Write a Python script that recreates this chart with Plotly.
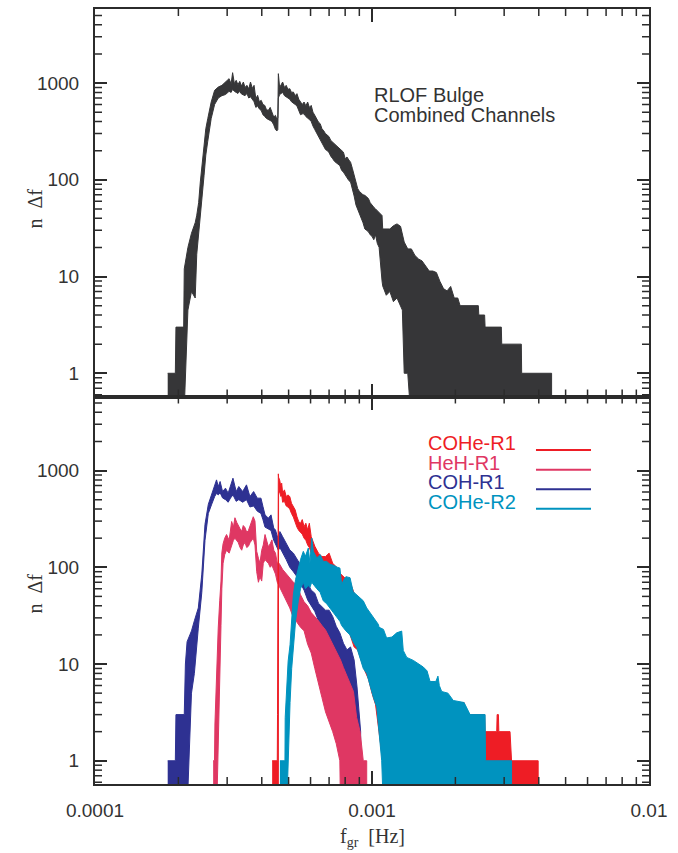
import plotly.graph_objects as go
from plotly.subplots import make_subplots

# ---------------- data (frequency in Hz, counts n per bin) ----------------
# Top panel: combined channels (upper / lower envelope of the noisy histogram)
comb_f = [1.83e-4, 1.95e-4, 1.96e-4, 2.09e-4, 2.10e-4, 2.165e-4, 2.23e-4, 2.30e-4, 2.33e-4, 2.367e-4,
          2.40e-4, 2.475e-4, 2.512e-4, 2.553e-4, 2.627e-4, 2.703e-4, 2.787e-4, 2.872e-4, 2.958e-4, 3.048e-4,
          3.10e-4, 3.139e-4, 3.186e-4, 3.234e-4, 3.28e-4, 3.331e-4, 3.38e-4, 3.432e-4, 3.48e-4, 3.535e-4,
          3.59e-4, 3.642e-4, 3.70e-4, 3.752e-4, 3.807e-4, 3.865e-4, 3.92e-4, 3.981e-4, 4.04e-4, 4.101e-4,
          4.16e-4, 4.225e-4, 4.29e-4, 4.352e-4, 4.418e-4, 4.483e-4, 4.537e-4, 4.57e-4, 4.591e-4, 4.64e-4,
          4.688e-4, 4.758e-4, 4.83e-4, 4.901e-4, 4.97e-4, 5.049e-4, 5.12e-4, 5.201e-4, 5.28e-4, 5.358e-4,
          5.44e-4, 5.519e-4, 5.60e-4, 5.686e-4, 5.77e-4, 5.857e-4, 5.94e-4, 6.034e-4, 6.12e-4, 6.216e-4,
          6.31e-4, 6.405e-4, 6.50e-4, 6.597e-4, 6.70e-4, 6.796e-4, 6.90e-4, 7.001e-4, 7.10e-4, 7.212e-4,
          7.32e-4, 7.43e-4, 7.54e-4, 7.654e-4, 7.77e-4, 7.885e-4, 8.003e-4, 8.123e-4, 8.25e-4, 8.367e-4,
          8.50e-4, 8.62e-4, 8.75e-4, 8.88e-4, 9.00e-4, 9.148e-4, 9.28e-4, 9.423e-4, 9.56e-4, 9.708e-4,
          9.85e-4, 1.000e-3, 1.015e-3, 1.030e-3, 1.045e-3, 1.061e-3, 1.087e-3, 1.093e-3, 1.126e-3, 1.160e-3,
          1.195e-3, 1.231e-3, 1.268e-3, 1.287e-3, 1.307e-3, 1.346e-3, 1.387e-3, 1.429e-3, 1.472e-3, 1.516e-3,
          1.562e-3, 1.609e-3, 1.658e-3, 1.708e-3, 1.759e-3, 1.812e-3, 1.866e-3, 1.923e-3, 1.981e-3, 2.040e-3,
          2.08e-3, 2.42e-3, 2.43e-3, 2.55e-3, 2.56e-3, 2.93e-3, 2.94e-3, 3.46e-3, 3.47e-3, 4.45e-3]
comb_hi = [1, 1, 3, 3, 12, 20, 28, 36, 43, 58,
           95, 209, 337, 428, 636, 840, 909, 946, 1024, 1109,
           980, 1279, 985, 1066, 960, 1040, 930, 1024, 900, 946,
           870, 1024, 880, 946, 689, 746, 640, 662, 600, 587,
           530, 522, 560, 501, 445, 463, 420, 440, 1249, 900,
           946, 1024, 900, 946, 860, 874, 800, 807, 740, 776,
           680, 636, 600, 636, 580, 636, 560, 587, 500, 463,
           420, 395, 380, 337, 320, 299, 290, 277, 255, 245,
           235, 227, 220, 209, 200, 193, 165, 172, 160, 152,
           130, 111, 95, 81, 76, 72, 70, 69, 66, 64,
           58, 54, 52, 50, 48, 46, 42.7, 31, 31, 31,
           33.5, 35, 33, 26.6, 22.7, 19.3, 19.3, 16.5, 15.2, 14.5,
           13, 11.4, 11.4, 11, 8.9, 7.5, 7.1, 7.9, 6, 6,
           5, 5, 4, 4, 3, 3, 2, 2, 1, 1]
comb_lo = [0.3, 0.3, 0.3, 0.3, 0.3, 4.5, 7, 6, 17, 28,
           45, 110, 180, 250, 430, 600, 700, 740, 760, 820,
           800, 860, 820, 800, 780, 820, 770, 760, 740, 780,
           700, 720, 680, 640, 560, 580, 540, 520, 470, 450,
           430, 420, 410, 400, 370, 330, 320, 330, 700, 760,
           780, 800, 740, 720, 700, 680, 640, 620, 600, 580,
           520, 470, 480, 480, 450, 430, 420, 400, 360, 330,
           300, 280, 260, 240, 220, 205, 200, 190, 175, 165,
           155, 150, 145, 140, 125, 120, 115, 105, 98, 95,
           80, 68, 55, 48, 45, 40, 36, 31, 30, 29,
           27, 26, 24, 27, 22, 20, 9, 8, 6.4, 7,
           5.5, 6, 5, 4.5, 1, 1, 0.3, 0.3, 0.3, 0.3,
           0.3, 0.3, 0.3, 0.3, 0.3, 0.3, 0.3, 0.3, 0.3, 0.3,
           0.3, 0.3, 0.3, 0.3, 0.3, 0.3, 0.3, 0.3, 0.3, 0.3]

# Bottom panel: COH-R1
coh_f = [1.83e-4, 1.95e-4, 1.96e-4, 2.10e-4, 2.12e-4, 2.15e-4, 2.20e-4, 2.23e-4, 2.284e-4, 2.36e-4,
         2.43e-4, 2.495e-4, 2.565e-4, 2.64e-4, 2.705e-4, 2.746e-4, 2.787e-4, 2.829e-4, 2.888e-4, 2.958e-4,
         3.025e-4, 3.086e-4, 3.148e-4, 3.234e-4, 3.305e-4, 3.413e-4, 3.523e-4, 3.625e-4, 3.738e-4, 3.854e-4,
         3.973e-4, 4.04e-4, 4.11e-4, 4.225e-4, 4.32e-4, 4.418e-4, 4.483e-4, 4.591e-4, 4.65e-4, 4.758e-4,
         4.901e-4, 5.049e-4, 5.201e-4, 5.358e-4, 5.519e-4, 5.686e-4, 5.857e-4, 6.034e-4, 6.216e-4, 6.405e-4,
         6.597e-4, 6.796e-4, 7.001e-4, 7.212e-4, 7.43e-4, 7.654e-4, 7.885e-4, 8.123e-4, 8.367e-4, 8.62e-4,
         8.83e-4, 9.0e-4, 9.1e-4]
coh_hi = [1, 1, 3, 3, 10, 17, 20, 22, 28, 38,
          85, 278, 447, 565, 711, 800, 683, 770, 606, 657,
          583, 683, 833, 606, 683, 606, 711, 538, 606, 518,
          518, 424, 348, 322, 348, 254, 243, 192, 234, 207,
          177, 151, 140, 120, 106, 94, 68, 58, 54, 42.5,
          39.5, 36, 36, 31, 24.5, 21, 16.4, 14, 15, 11,
          5.8, 3, 2]
coh_lo = [0.3, 0.3, 0.3, 0.3, 0.3, 0.3, 2, 5, 8, 23.5,
          55, 190, 360, 450, 540, 580, 560, 590, 520, 500,
          470, 520, 560, 480, 500, 470, 500, 420, 430, 380,
          360, 310, 260, 250, 240, 190, 170, 150, 160, 140,
          120, 100, 90, 80, 68, 58, 46, 40, 35, 28,
          24, 20, 18, 15, 12, 9, 7, 5, 4, 3,
          2, 1, 0.3]

# Bottom panel: HeH-R1
heh_f = [2.67e-4, 2.70e-4, 2.71e-4, 2.75e-4, 2.785e-4, 2.82e-4, 2.85e-4, 2.87e-4, 2.90e-4, 2.94e-4,
         2.985e-4, 3.05e-4, 3.114e-4, 3.16e-4, 3.20e-4, 3.25e-4, 3.29e-4, 3.34e-4, 3.385e-4, 3.43e-4,
         3.479e-4, 3.53e-4, 3.58e-4, 3.63e-4, 3.68e-4, 3.727e-4, 3.78e-4, 3.835e-4, 3.89e-4, 3.94e-4,
         3.998e-4, 4.05e-4, 4.11e-4, 4.16e-4, 4.225e-4, 4.29e-4, 4.352e-4, 4.42e-4, 4.483e-4, 4.55e-4,
         4.619e-4, 4.758e-4, 4.901e-4, 5.049e-4, 5.201e-4, 5.358e-4, 5.519e-4, 5.686e-4, 5.857e-4, 6.034e-4,
         6.216e-4, 6.405e-4, 6.597e-4, 6.796e-4, 7.001e-4, 7.212e-4, 7.43e-4, 7.654e-4, 7.70e-4, 7.885e-4,
         8.123e-4, 8.367e-4, 8.57e-4, 8.80e-4, 9.06e-4, 9.30e-4, 9.57e-4]
heh_hi = [1, 1, 2.4, 11.7, 23.5, 45, 72, 141, 175, 200,
          218, 190, 297, 260, 325, 290, 275, 250, 235, 270,
          257, 230, 240, 270, 297, 333, 300, 146, 124, 110,
          150, 170, 218, 190, 163, 175, 192, 150, 140, 110,
          110, 95, 85, 78, 70, 66, 52, 44, 40, 34,
          31, 28, 25, 22.5, 19, 16, 13.6, 11.5, 11, 9.2,
          7.5, 6.3, 5.2, 2.8, 2, 1, 1]
heh_lo = [0.3, 0.3, 0.3, 0.3, 2, 8, 25, 60, 110, 135,
          150, 140, 170, 190, 200, 190, 180, 160, 150, 170,
          180, 160, 165, 180, 190, 200, 170, 90, 70, 80,
          72, 110, 120, 115, 110, 100, 105, 95, 85, 70,
          62, 53, 45, 38, 30, 27, 24, 22, 16, 13,
          9, 6.2, 4.5, 3.2, 2.6, 2, 1.5, 1, 0.3, 0.3,
          0.3, 0.3, 0.3, 0.3, 0.3, 0.3, 0.3]

# Bottom panel: COHe-R1
cohe1_f = [4.36e-4, 4.55e-4, 4.56e-4, 4.59e-4, 4.60e-4, 4.64e-4, 4.688e-4, 4.72e-4, 4.758e-4, 4.83e-4,
           4.901e-4, 4.97e-4, 5.049e-4, 5.12e-4, 5.201e-4, 5.28e-4, 5.358e-4, 5.44e-4, 5.519e-4, 5.60e-4,
           5.686e-4, 5.77e-4, 5.857e-4, 5.94e-4, 6.034e-4, 6.216e-4, 6.405e-4, 6.597e-4, 6.796e-4, 7.001e-4,
           7.212e-4, 7.43e-4, 7.654e-4, 7.885e-4, 8.123e-4, 8.367e-4, 8.62e-4, 8.88e-4, 9.148e-4, 9.423e-4,
           9.708e-4, 1.0e-3, 1.03e-3, 1.061e-3, 1.093e-3, 1.126e-3, 1.16e-3, 1.195e-3, 1.231e-3, 1.268e-3,
           1.307e-3, 1.346e-3, 1.387e-3, 1.429e-3, 1.472e-3, 1.516e-3, 1.562e-3, 1.609e-3, 1.658e-3, 1.708e-3,
           1.759e-3, 1.866e-3, 2.15e-3, 2.16e-3, 2.55e-3, 2.56e-3, 2.82e-3, 2.83e-3, 2.86e-3, 2.87e-3,
           3.15e-3, 3.19e-3, 3.98e-3]
cohe1_hi = [1, 1, 3, 924, 850, 800, 683, 740, 583, 631,
            538, 560, 538, 459, 424, 392, 334, 296, 285, 311,
            263, 285, 243, 285, 207, 165, 140, 129, 129, 140,
            110, 101, 87, 80, 74, 68, 54, 42.5, 36, 33.6,
            31, 28.6, 24.4, 22.5, 19.2, 16.4, 12.9, 11.9, 11, 10.2,
            11, 10.2, 10.2, 9.4, 8, 7.4, 6.3, 6.3, 5.4, 5.4,
            4.6, 4, 4, 3, 3, 2, 2, 3, 3, 2,
            2, 1, 1]
cohe1_lo = [0.3, 0.3, 0.3, 0.3, 600, 600, 540, 560, 470, 480,
            430, 420, 400, 360, 330, 300, 260, 240, 230, 220,
            200, 190, 170, 160, 140, 110, 90, 80, 75, 70,
            60, 50, 40, 32, 25, 20, 15, 14, 11, 8.5,
            7, 5, 3.8, 2, 1, 0.3, 0.3, 0.3, 0.3, 0.3,
            0.3, 0.3, 0.3, 0.3, 0.3, 0.3, 0.3, 0.3, 0.3, 0.3,
            0.3, 0.3, 0.3, 0.3, 0.3, 0.3, 0.3, 0.3, 0.3, 0.3,
            0.3, 0.3, 0.3]

# Bottom panel: COHe-R2
cohe2_f = [4.65e-4, 4.85e-4, 4.86e-4, 4.92e-4, 4.98e-4, 5.06e-4, 5.13e-4, 5.20e-4, 5.30e-4, 5.42e-4,
           5.52e-4, 5.65e-4, 5.75e-4, 5.89e-4, 5.97e-4, 6.06e-4, 6.14e-4, 6.32e-4, 6.50e-4, 6.67e-4,
           6.86e-4, 7.06e-4, 7.25e-4, 7.50e-4, 7.66e-4, 7.77e-4, 7.87e-4, 8.05e-4, 8.33e-4, 8.55e-4,
           8.81e-4, 9.06e-4, 9.30e-4, 9.57e-4, 9.85e-4, 1.012e-3, 1.04e-3, 1.055e-3, 1.06e-3, 1.084e-3,
           1.10e-3, 1.129e-3, 1.18e-3, 1.228e-3, 1.28e-3, 1.297e-3, 1.335e-3, 1.41e-3, 1.47e-3, 1.532e-3,
           1.58e-3, 1.62e-3, 1.70e-3, 1.73e-3, 1.75e-3, 1.785e-3, 1.88e-3, 1.965e-3, 2.15e-3, 2.26e-3,
           2.56e-3, 2.57e-3, 3.19e-3]
cohe2_hi = [1, 1, 2.8, 6.2, 10.7, 15.8, 30, 52, 75, 98,
            120, 146, 130, 158, 110, 200, 146, 125, 135, 115,
            115, 107, 105, 100, 98, 66, 72, 80, 78, 56,
            52, 49, 45, 38, 34, 30, 27, 25.6, 24, 23,
            22.8, 18.6, 19, 21, 21.9, 13.8, 11.7, 10.9, 10, 9.3,
            8.5, 6.6, 6.6, 7.5, 6, 5.2, 5, 4.2, 4, 3,
            3, 1, 1]
cohe2_lo = [0.3, 0.3, 0.3, 0.3, 1, 4, 9, 13, 28, 45,
            60, 70, 60, 65, 62, 70, 68, 60, 55, 45,
            42, 38, 34, 30, 27.6, 25, 23.6, 22, 20, 17,
            14.8, 11.7, 9, 8, 6, 4.5, 3.6, 2.5, 1.9, 1,
            0.3, 0.3, 0.3, 0.3, 0.3, 0.3, 0.3, 0.3, 0.3, 0.3,
            0.3, 0.3, 0.3, 0.3, 0.3, 0.3, 0.3, 0.3, 0.3, 0.3,
            0.3, 0.3, 0.3]

legend_labels = ["COHe-R1", "HeH-R1", "COH-R1", "COHe-R2"]
tick_labels_x = ["0.0001", "0.001", "0.01"]
tick_labels_y = ["1", "10", "100", "1000"]

# ---------------- styling ----------------
INK = "#2b2b2b"
C_COMB = "#363638"
C_RED = "#EE1D25"
C_PINK = "#DF3763"
C_BLUE = "#2E3192"
C_TEAL = "#0093BF"
SANS = "Liberation Sans, Arial, sans-serif"
SERIF = "Liberation Serif, Times New Roman, serif"

for f, h, l in [(comb_f, comb_hi, comb_lo), (coh_f, coh_hi, coh_lo), (heh_f, heh_hi, heh_lo),
                (cohe1_f, cohe1_hi, cohe1_lo), (cohe2_f, cohe2_hi, cohe2_lo)]:
    assert len(f) == len(h) == len(l), (len(f), len(h), len(l))


def band(f, hi, lo, color):
    return go.Scatter(x=list(f) + list(f)[::-1], y=list(hi) + list(lo)[::-1],
                      mode="lines", fill="toself", fillcolor=color,
                      line=dict(color=color, width=1), hoverinfo="skip", showlegend=False)


fig = make_subplots(rows=2, cols=1, shared_xaxes=True, vertical_spacing=0)
fig.add_trace(band(comb_f, comb_hi, comb_lo, C_COMB), row=1, col=1)
fig.add_trace(band(coh_f, coh_hi, coh_lo, C_BLUE), row=2, col=1)
fig.add_trace(band(heh_f, heh_hi, heh_lo, C_PINK), row=2, col=1)
fig.add_trace(band(cohe1_f, cohe1_hi, cohe1_lo, C_RED), row=2, col=1)
fig.add_trace(band(cohe2_f, cohe2_hi, cohe2_lo, C_TEAL), row=2, col=1)

XR = [-4, -2]
YR = [-0.24, 3.765]
PLOT_W, PANEL_H = 554.0, 388.5
MINOR_LEN = 7.0

xcommon = dict(type="log", range=XR, tickmode="array", tickvals=[1e-4, 1e-3, 1e-2],
               ticktext=tick_labels_x,
               ticks="inside", ticklen=13, tickwidth=1.6, tickcolor=INK,
               showline=True, linecolor=INK, linewidth=2, mirror="allticks",
               showgrid=False, zeroline=False, ticklabelstandoff=8,
               tickfont=dict(family=SANS, size=19, color="#333333"))
ycommon = dict(type="log", range=YR, tickmode="array",
               tickvals=[1, 10, 100, 1000], ticktext=tick_labels_y,
               ticks="inside", ticklen=12, tickwidth=1.6, tickcolor=INK,
               showline=True, linecolor=INK, linewidth=2, mirror="allticks",
               showgrid=False, zeroline=False, ticklabelstandoff=10,
               tickfont=dict(family=SANS, size=19, color="#333333"))

fig.update_xaxes(**xcommon)
fig.update_xaxes(showticklabels=False, row=1, col=1)
fig.update_xaxes(showticklabels=True, row=2, col=1)
fig.update_yaxes(**ycommon)
fig.update_layout(yaxis=dict(domain=[0.5, 1.0]), yaxis2=dict(domain=[0.0, 0.5]))

# minor (2..9) log ticks on all four sides of both panels, pointing inward
x_minor_vals = [m * 10.0 ** e for e in (-4, -3) for m in range(2, 10)]
y_minor_vals = [v for v in (m * 10.0 ** e for e in (-1, 0, 1, 2, 3) for m in range(2, 10))
                if 10 ** YR[0] < v < 10 ** YR[1]]
shapes = []
tick_line = dict(color=INK, width=1.5)
dy = MINOR_LEN / PANEL_H
dx = MINOR_LEN / PLOT_W
for xr, yr in [("x", "y"), ("x2", "y2")]:
    for v in x_minor_vals:
        shapes.append(dict(type="line", xref=xr, yref=yr + " domain", x0=v, x1=v, y0=0, y1=dy,
                           line=tick_line, layer="above"))
        shapes.append(dict(type="line", xref=xr, yref=yr + " domain", x0=v, x1=v, y0=1 - dy, y1=1,
                           line=tick_line, layer="above"))
    for v in y_minor_vals:
        shapes.append(dict(type="line", xref=xr + " domain", yref=yr, x0=0, x1=dx, y0=v, y1=v,
                           line=tick_line, layer="above"))
        shapes.append(dict(type="line", xref=xr + " domain", yref=yr, x0=1 - dx, x1=1, y0=v, y1=v,
                           line=tick_line, layer="above"))

ann = []
ann.append(dict(text="RLOF Bulge", x=0.5, y=0.8887, xref="paper", yref="paper",
                xanchor="left", yanchor="middle", showarrow=False,
                font=dict(family=SANS, size=20, color="#333333")))
ann.append(dict(text="Combined Channels", x=0.5, y=0.8636, xref="paper", yref="paper",
                xanchor="left", yanchor="middle", showarrow=False,
                font=dict(family=SANS, size=20, color="#333333")))
leg_colors = [C_RED, C_PINK, C_BLUE, C_TEAL]
leg_text_y = [0.4402, 0.4144, 0.3893, 0.3642]
leg_line_y = [0.4311, 0.4054, 0.3802, 0.3552]
for lab, col, ty, ly in zip(legend_labels, leg_colors, leg_text_y, leg_line_y):
    ann.append(dict(text=lab, x=0.5975, y=ty, xref="paper", yref="paper",
                    xanchor="left", yanchor="middle", showarrow=False,
                    font=dict(family=SANS, size=20, color=col)))
    shapes.append(dict(type="line", xref="paper", yref="paper", x0=0.796, x1=0.8953,
                       y0=ly, y1=ly, line=dict(color=col, width=2)))
for yy in [0.7426, 0.2458]:
    ann.append(dict(text="n  Δf", x=-0.1083, y=yy, xref="paper", yref="paper",
                    xanchor="center", yanchor="middle", textangle=-90, showarrow=False,
                    font=dict(family=SERIF, size=20, color="#333333")))
ann.append(dict(text="f<sub>gr</sub>  [Hz]", x=0.5, y=-0.0695, xref="paper", yref="paper",
                xanchor="center", yanchor="middle", showarrow=False,
                font=dict(family=SERIF, size=20, color="#333333")))

fig.update_layout(width=678, height=853, margin=dict(l=95, r=29, t=7, b=69),
                  paper_bgcolor="white", plot_bgcolor="white",
                  annotations=ann, shapes=shapes, showlegend=False)

fig.write_html("out.html")
